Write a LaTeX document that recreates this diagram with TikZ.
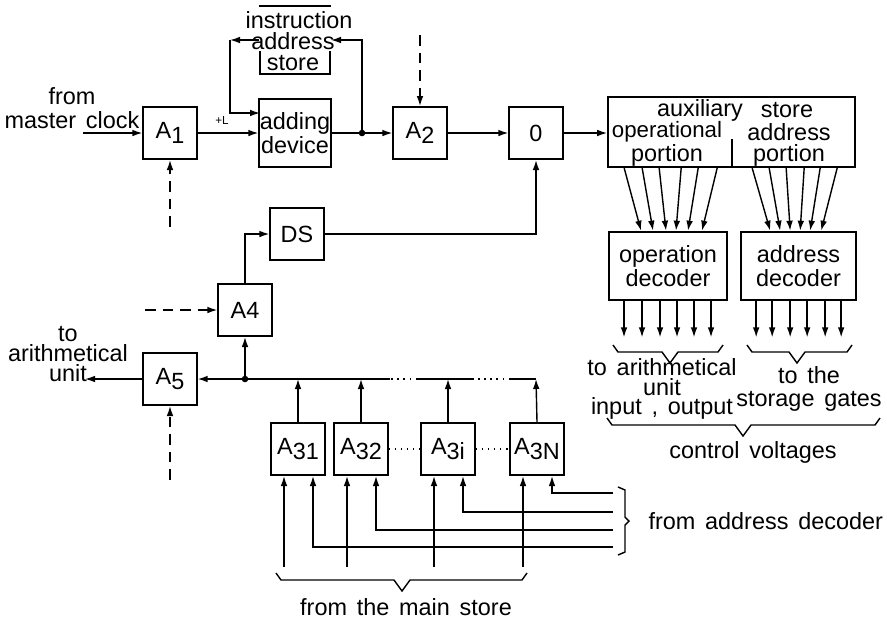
\documentclass[tikz,border=0pt]{standalone}
\usepackage{fontspec}
\setmainfont{Liberation Sans}[WordSpace=1.5]
\usetikzlibrary{calc,arrows.meta}
\newcommand{\lowr}[1]{\raisebox{-0.35ex}{#1}}
\newcommand{\vbrace}[4]{\draw ({#1},{#3}) -- ++(5,7) -- ({#4-8},{#3+7}) -- ({#4},{#3+18}) -- ({#4+8},{#3+7}) -- ({#2-5},{#3+7}) -- ({#2},{#3});}

\begin{document}
\begin{tikzpicture}[x=0.015cm,y=-0.015cm,line width=0.6pt,>={Latex[length=1.5mm,width=1mm]},
  every node/.style={font=\fontsize{10}{10}\selectfont},
  gate/.style={draw,line width=0.85pt,minimum width=0.8cm,minimum height=0.78cm,inner sep=0pt},
  unit/.style={draw,line width=0.85pt,inner sep=0pt,align=center},
  ctl/.style={->,dash pattern=on 4.5pt off 3pt}]
  \useasboundingbox (0,0) rectangle (887,621);

  % instruction address store
  \node[draw,line width=0.85pt,minimum width=1.05cm,minimum height=1.02cm] (ias) at (295,40) {};
  \node[fill=white,inner sep=1pt,inner ysep=2pt] (iasa) at (299,20) {instruction};
  \node[fill=white,inner sep=1pt,inner ysep=0.5pt] (iasb) at (293,41) {address};
  \node[inner sep=1pt] (iasc) at (293,63) {store};

  % gates and units
  \node[gate] (A1) at (170,133) {A\lowr{1}};
  \node[unit,minimum width=1.07cm,minimum height=1.03cm] (add) at (295,133) {adding\\device};
  \node[gate] (A2) at (420,133) {A\lowr{2}};
  \node[gate] (O) at (536,133) {0};
  \node[unit,minimum width=3.7cm,minimum height=1.05cm] (aux) at (731.5,132) {};
  \draw ($(aux.south west)+(125,0)$) -- ++(0,-29);
  \node (auxa) at (700,110) {auxiliary};
  \node (auxb) at (787,110) {store};
  \node[font=\fontsize{9.5}{9.5}\selectfont] (auxc) at (667,132) {operational};
  \node (auxd) at (667,155) {portion};
  \node (auxe) at (789,132) {address};
  \node (auxf) at (789,155) {portion};
  \node[unit,minimum width=1.77cm,minimum height=1.03cm] (opdec) at (668,266) {operation\\decoder};
  \node[unit,minimum width=1.72cm,minimum height=1.03cm] (addec) at (798.5,266) {address\\decoder};
  \node[gate] (DS) at (297,234) {DS};
  \node[gate] (A4) at (245,310) {A4};
  \node[gate] (A5) at (170,379) {A\lowr{5}};
  \node[gate] (A31) at (298,449) {A\lowr{31}};
  \node[gate] (A32) at (361,449) {A\lowr{32}};
  \node[gate] (A3i) at (448,449) {A\lowr{3i}};
  \node[gate] (A3N) at (537,449) {A\lowr{3N}};

  % free ends
  \coordinate (clk) at (83,133);
  \coordinate (d1) at (170,227);
  \coordinate (d2) at (420,35);
  \coordinate (d4) at (145,310);
  \coordinate (d5) at (170,480);
  \coordinate (j1) at (362,133);
  \coordinate (c1) at (230,40);
  \coordinate (addin) at (260,113);
  \coordinate (j2) at (245,379);
  \coordinate (busN) at (536,379);
  \coordinate (busa) at (510,379);
  \coordinate (busb) at (473,379);
  \coordinate (busc) at (417,379);
  \coordinate (busd) at (390,379);
  \coordinate (out5) at (85,379);

  % top row
  \node[align=center] (fmc) at (72,108) {from\\master clock};
  \draw[->] (clk) -- (A1);
  \draw[->] (A1.east) -- node[pos=0.4,above,font=\fontsize{5}{5}\selectfont] (plusL) {+L} (A1.east -| add.west);
  \draw[ctl] (d1) -- (A1.south);
  \draw (add.east |- j1) -- (j1);
  \fill (j1) circle (1.4pt);
  \draw[->] (j1) -- (A2);
  \draw[->] (j1) |- (ias.east);
  \draw[->] (ias.west) -- (c1);
  \draw[->] (c1) |- (addin);
  \draw[ctl] (d2) -- (A2.north);
  \draw[->] (A2) -- (O);
  \draw[->] (O) -- (O -| aux.west);

  % decoders
  \foreach \a/\b in {17/33,35/45,52/58,74/68,91/80,110/94}
    \draw[->] ($(aux.south west)+(\a,0)$) -- ($(opdec.north west)+(\b,0)$);
  \foreach \a/\b in {145/30,162/40,179/50,197/60,213/70,230/81}
    \draw[->] ($(aux.south west)+(\a,0)$) -- ($(addec.north west)+(\b,0)$);
  \foreach \o in {16,34,52,69,86,103}
    \draw[->] ($(opdec.south west)+(\o,0)$) -- ++(0,36);
  \foreach \o in {16,32,50,67,85,101}
    \draw[->] ($(addec.south west)+(\o,0)$) -- ++(0,36);
  \vbrace{613}{723}{345}{670}
  \vbrace{747}{852}{345}{797}
  \vbrace{607}{880}{418}{743}
  \node[align=center,font=\fontsize{10}{8.5}\selectfont] (toal) at (662,389) {to arithmetical\\unit\\input , output};
  \node[align=center] (tost) at (809,389) {to the\\storage gates};
  \node (cv) at (753,452) {control voltages};

  % middle
  \draw[->] (A4.north) |- (DS.west);
  \draw[->] (DS.east) -| (O.south);
  \draw[ctl] (d4) -- (A4.west);
  \draw (busN) -- (busa);
  \draw[dotted] (busa) -- (busb);
  \draw (busb) -- (busc);
  \draw[dotted] (busc) -- (busd);
  \draw[->] (busd) -- (A5.east);
  \fill (j2) circle (1.4pt);
  \draw[->] (j2) -- (A4.south);
  \draw[->] (A5.west) -- (out5);
  \node[align=center,font=\fontsize{10}{8.5}\selectfont] (toau) at (68,354) {to\\arithmetical\\unit};
  \draw[ctl] (d5) -- (A5.south);
  \draw[->] (A3N.north) -- (busN);
  \foreach \g in {A31,A32,A3i}
    \draw[->] (\g.north) -- (\g.north |- busN);
  \draw[dotted] (A32.east) -- (A3i.west);
  \draw[dotted] (A3i.east) -- (A3N.west);

  % inputs of the A3 gates
  \foreach \g/\yy in {A31/547,A32/530,A3i/512,A3N/493}{
    \coordinate (ad\g) at (613,\yy);
    \draw[->] (ad\g) -| ($(\g.south)+(15,0)$);
    \draw[->] ($(\g.south)+(-14,91)$) -- ($(\g.south)+(-14,0)$);
  }
  \draw (618,487) -- (625,490) -- (625,517) -- (629,521) -- (625,525) -- (625,552) -- (618,555);
  \node[anchor=west] (fad) at (640,521) {from address decoder};
  \vbrace{276}{527}{573}{402}
  \node (fms) at (406,607) {from the main store};
\end{tikzpicture}
\end{document}
